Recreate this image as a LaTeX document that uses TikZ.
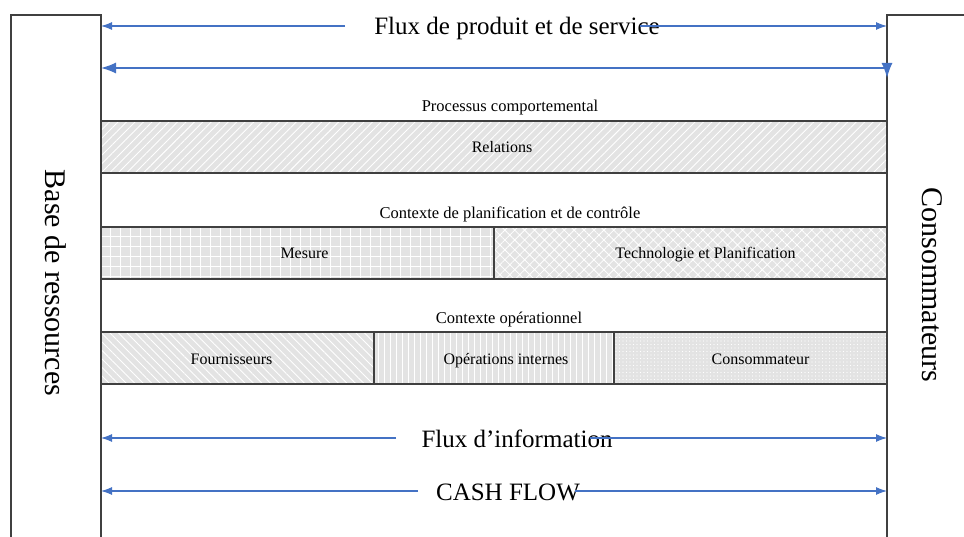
\documentclass[tikz,border=0pt]{standalone}
\usepackage{fontspec}
\setmainfont{Liberation Serif}
\usetikzlibrary{arrows.meta,patterns,patterns.meta,positioning}
\definecolor{flowblue}{HTML}{4472C4}
\definecolor{bandgray}{HTML}{E3E3E3}
\definecolor{edgegray}{HTML}{404040}
\tikzset{>={Latex[length=11pt,width=8pt]}}
\tikzset{
  flow/.style={draw=flowblue, line width=1.1pt, ->},
  band/.style={draw=edgegray, line width=1.2pt, preaction={fill=bandgray}, minimum height=52pt,
    inner sep=0pt, outer sep=0pt, anchor=north west, text height=15pt, text depth=3pt,
    font=\fontsize{16}{18}\selectfont},
  small/.style={font=\fontsize{16.5}{18}\selectfont},
  big/.style={font=\fontsize{25}{28}\selectfont},
  side/.style={font=\fontsize{30}{32}\selectfont, rotate=-90},
  hatched/.style={preaction={pattern={#1}, pattern color=white}},
}

\begin{document}
\begin{tikzpicture}[x=1pt,y=-1pt]
    \useasboundingbox (0,0) rectangle (964,537);
    %side boxes
    \draw[edgegray, line width=1.2pt] (11,537) -- (11,15) -- (101,15) -- (101,537);
    \draw[edgegray, line width=1.2pt] (887,537) -- (887,15) -- (964,15);
    \node[side] (base) at (56,283) {Base de ressources};
    \node[side] (cons) at (932,285) {Consommateurs};
    % top flows
    \node[big] (prod) at (517,28) {Flux de produit et de service};
    \coordinate (p1) at (345,26); \coordinate (p2) at (640,26);
    \coordinate (pl) at (101,26); \coordinate (pr) at (887,26);
    \draw[flow] (p1) -- (pl);
    \draw[flow] (p2) -- (pr);
    \coordinate (ql) at (101,68); \coordinate (qr) at (887,68); \coordinate (qd) at (887,78);
    \draw[flow, line width=1.4pt, >={Latex[length=15pt,width=11pt]}, <->] (ql) -- (qr) -- (qd);
    % behaviour
    \node[small] (proc) at (510,108) {Processus comportemental};
    \node[band, minimum width=786pt, hatched={Lines[angle=45,distance=6pt,line width=0.9pt]}]
      (rel) at (101,121) {\hspace*{16pt}Relations};
    % planning
    \node[small] (plan) at (510,214) {Contexte de planification et de contrôle};
    \node[band, minimum width=393pt, hatched={Hatch[angle=0,distance=10pt,line width=1pt]}]
      (mes) at (101,227) {\hspace*{14pt}Mesure};
    \node[band, minimum width=393pt, hatched={Hatch[angle=45,distance=7pt,line width=0.8pt]}, right=0pt of mes]
      (tech) {\hspace*{30pt}Technologie et Planification};
    % operations
    \node[small] (oper) at (509,320) {Contexte opérationnel};
    \node[band, minimum width=273pt, hatched={Lines[angle=-45,distance=6pt,line width=0.9pt]}]
      (four) at (101,332) {Fournisseurs\hspace*{12pt}};
    \node[band, minimum width=240pt, hatched={Lines[angle=90,distance=6pt,line width=1pt]}, right=0pt of four]
      (intr) {\hspace*{24pt}Opérations internes};
    \node[band, minimum width=273pt, hatched={Dots[distance=3.5pt,radius=0.7pt]}, right=0pt of intr]
      (cmt) {\hspace*{20pt}Consommateur};
    % bottom flows
    \node[big] (info) at (517,439) {Flux d’information};
    \coordinate (i1) at (396,438); \coordinate (i2) at (590,438);
    \coordinate (il) at (101,438); \coordinate (ir) at (887,438);
    \draw[flow] (i1) -- (il);
    \draw[flow] (i2) -- (ir);
    \node[big] (cash) at (508,492) {CASH FLOW};
    \coordinate (c1) at (418,491); \coordinate (c2) at (575,491);
    \coordinate (cl) at (101,491); \coordinate (cr) at (887,491);
    \draw[flow] (c1) -- (cl);
    \draw[flow] (c2) -- (cr);
\end{tikzpicture}
\end{document}
